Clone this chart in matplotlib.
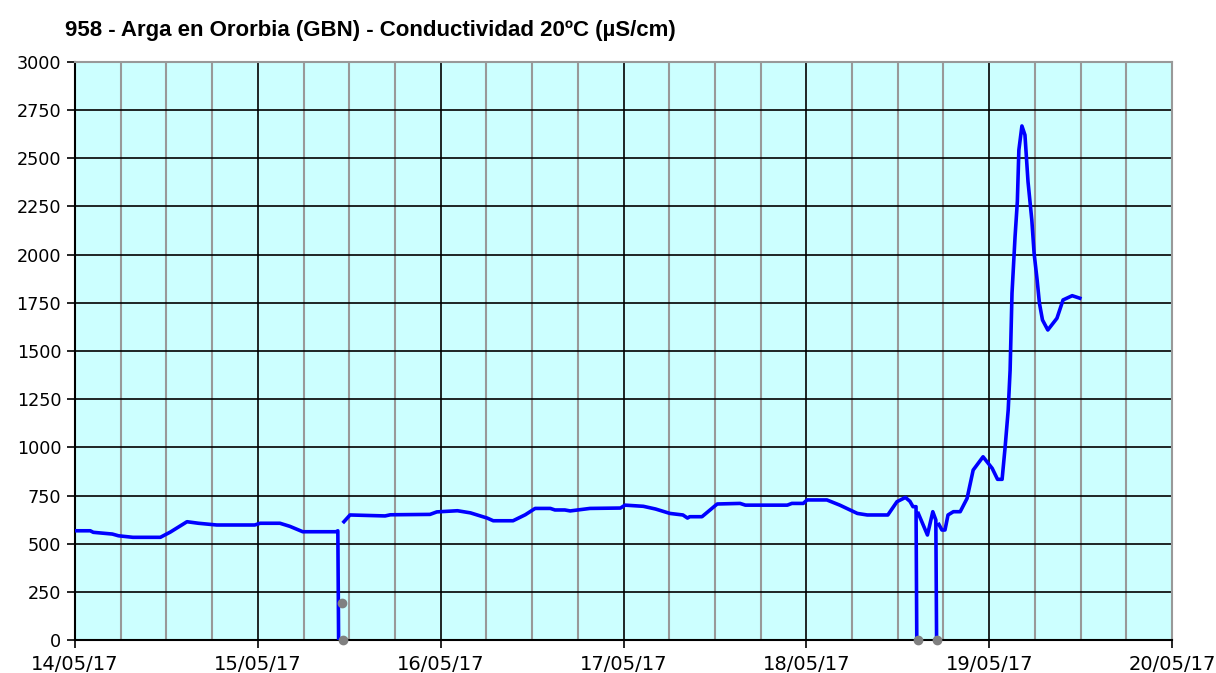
"""
Conductividad 20ºC - estación 958 Arga en Ororbia (GBN)
"""
import matplotlib

matplotlib.use("Agg")
import matplotlib.dates as mdates
import matplotlib.pyplot as plt
import numpy as np
import pandas as pd

# datos: horas desde 14/05/17 00:00 y valores (µS/cm); NaN = corte de la serie
horas = [
    0.0, 2.0, 2.4, 4.9, 5.7, 7.6, 11.2, 12.5, 14.7, 16.2, 18.6, 23.6, 24.3, 26.9,
    28.2, 29.9, 34.3, 34.5, 34.6, np.nan,
    35.3, 36.1, 40.7, 41.4, 46.6, 47.5, 50.2, 51.9, 54.1, 54.9, 57.5, 59.1, 60.4,
    62.4, 63.0, 64.3, 65.0, 67.6, 71.6, 72.2, 74.6, 76.2, 78.1, 79.8, 80.4, 80.7,
    82.3, 84.3, 87.3, 88.0, 93.5, 94.1, 95.6, 96.1, 98.7, 100.4, 102.7, 104.0,
    106.7, 107.9, 109.0, 109.6, 110.0, 110.4, 110.5, np.nan,
    110.7, 111.9, 112.6, 113.0, 113.1, np.nan,
    113.4, 113.8, 114.2, 114.6, 115.3, 116.2, 117.1, 117.9, 119.2, 120.4, 121.1,
    121.7, 122.1, 122.5, 122.75, 123.0, 123.4, 123.7, 123.9, 124.3, 124.7, 125.1,
    125.6, 125.9, 126.3, 126.6, 127.0, 127.7, 128.9, 129.7, 130.9, 131.9,
]
valores = [
    567, 567, 559, 550, 541, 533, 533, 560, 614, 606, 597, 597, 606, 606,
    590, 562, 562, 567, 0, np.nan,
    614, 649, 644, 650, 652, 665, 671, 660, 633, 619, 619, 650, 683,
    683, 675, 675, 670, 683, 685, 700, 694, 680, 657, 649, 633, 640,
    640, 706, 709, 700, 700, 709, 709, 727, 727, 700, 657, 649,
    649, 718, 740, 720, 692, 692, 0, np.nan,
    657, 545, 666, 623, 0, np.nan,
    600, 571, 571, 649, 666, 666, 735, 882, 951, 891, 834,
    834, 1003, 1194, 1400, 1800, 2093, 2275, 2543, 2668, 2621, 2379,
    2180, 2007, 1868, 1748, 1661, 1609, 1670, 1765, 1787, 1774,
]

# puntos grises (validación)
horas_gris = [35.05, 35.2, 110.7, 113.2]
valores_gris = [190, 0, 0, 0]

inicio = pd.Timestamp("2017-05-14")
fechas = inicio + pd.to_timedelta(np.array(horas, dtype=float), unit="h")
fechas_gris = inicio + pd.to_timedelta(horas_gris, unit="h")

plt.rcParams["font.family"] = ["DejaVu Sans"]

fig = plt.figure(figsize=(12.16, 6.73), dpi=100)
ax = fig.add_axes([0.0617, 0.049, 0.9021, 0.8589])
ax.set_facecolor("#ccffff")

ax.plot(fechas, valores, color="#0000ff", linewidth=2.6, zorder=3)
ax.plot(fechas_gris, valores_gris, linestyle="none", marker="o", markersize=6,
        color="#808080", zorder=4, clip_on=False)

ax.set_xlim(inicio, inicio + pd.Timedelta(days=6))
ax.set_ylim(0, 3000)
ax.set_yticks(np.arange(0, 3001, 250))
ax.xaxis.set_major_locator(mdates.DayLocator())
ax.xaxis.set_minor_locator(mdates.HourLocator(byhour=[6, 12, 18]))
ax.xaxis.set_major_formatter(mdates.DateFormatter("%d/%m/%y"))

ax.grid(which="major", color="black", linewidth=1.2, zorder=1)
ax.grid(which="minor", axis="x", color="#999999", linewidth=1.5, zorder=1)
ax.set_axisbelow(True)

ax.tick_params(axis="both", which="major", direction="out", length=6, width=1.2,
               color="black")
ax.tick_params(axis="x", which="major", labelsize=14, pad=5)
ax.tick_params(axis="y", which="major", labelsize=12.7, pad=4)
ax.tick_params(axis="x", which="minor", length=0)

for lado in ["left", "bottom"]:
    ax.spines[lado].set_color("black")
    ax.spines[lado].set_linewidth(1.5)
for lado in ["top", "right"]:
    ax.spines[lado].set_color("#999999")
    ax.spines[lado].set_linewidth(1.5)

fig.text(0.0535, 0.955, "958 - Arga en Ororbia (GBN) - Conductividad 20ºC (µS/cm)",
         fontsize=16, fontweight="bold", family=["Liberation Sans", "DejaVu Sans"],
         ha="left", va="center")

fig.savefig("out.png", dpi=100)
